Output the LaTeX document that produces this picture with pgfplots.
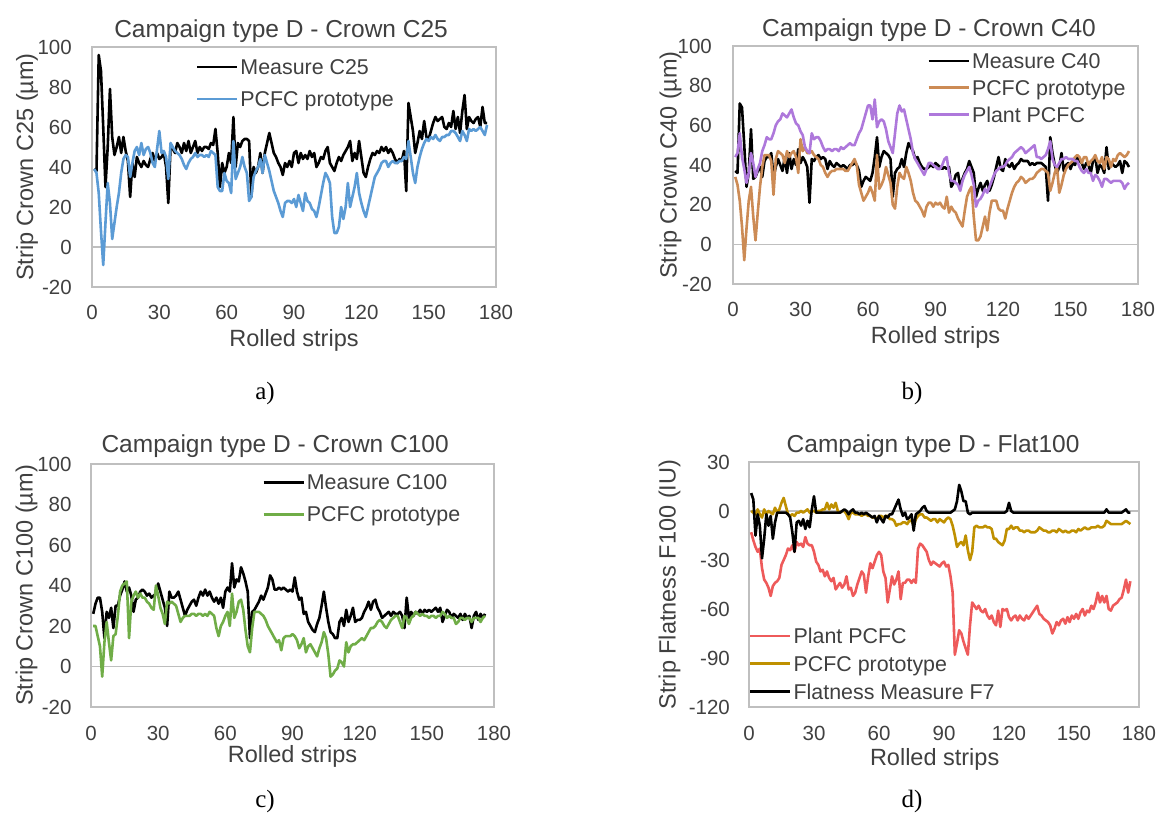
\documentclass[border=0pt]{standalone}
\usepackage{fontspec}
\setmainfont{Liberation Sans}
\newfontfamily\capfont{Liberation Serif}
\usepackage{pgfplots}
\usepackage{pgfplotstable}
\pgfplotsset{compat=1.18}
\definecolor{txt}{HTML}{404040}
\definecolor{boxgray}{HTML}{BFBFBF}
\definecolor{cblue}{HTML}{5B9BD5}
\definecolor{ctan}{HTML}{CC8B55}
\definecolor{cpurple}{HTML}{AE78DB}
\definecolor{cgreen}{HTML}{70AD47}
\definecolor{cred}{HTML}{EE5A5A}
\definecolor{cgold}{HTML}{BF9000}

\pgfplotstableread[row sep=\\]{y\\39\\38\\96\\88\\60\\30\\50\\79\\55\\46\\50\\55\\47\\55\\48\\43\\25\\42\\35\\45\\42\\40\\43\\41\\40\\44\\47\\43\\47\\44\\45\\47\\40\\22\\50\\49\\47\\52\\50\\47\\52\\48\\53\\47\\50\\53\\47\\50\\48\\50\\50\\49\\52\\51\\59\\47\\30\\42\\37\\40\\47\\42\\65\\40\\52\\50\\53\\54\\54\\53\\25\\40\\37\\40\\47\\37\\47\\52\\57\\52\\47\\45\\42\\40\\36\\42\\40\\43\\40\\47\\48\\42\\47\\44\\46\\44\\48\\45\\47\\40\\42\\45\\44\\48\\50\\42\\40\\38\\42\\45\\43\\46\\48\\50\\53\\43\\47\\44\\53\\45\\37\\35\\40\\44\\47\\46\\48\\47\\50\\48\\50\\47\\49\\47\\44\\42\\44\\43\\48\\28\\72\\65\\58\\47\\52\\58\\54\\63\\55\\54\\58\\62\\65\\63\\64\\65\\60\\59\\62\\60\\68\\59\\65\\57\\68\\76\\59\\65\\63\\62\\64\\65\\60\\70\\62\\62\\}\aM
\pgfplotstableread[row sep=\\]{y\\39\\37\\27\\8\\-9\\12\\32\\22\\4\\12\\20\\27\\37\\44\\46\\45\\35\\42\\48\\50\\46\\52\\46\\49\\50\\47\\42\\40\\49\\58\\47\\48\\45\\34\\52\\50\\48\\47\\46\\44\\41\\39\\42\\44\\45\\47\\45\\46\\46\\45\\46\\45\\48\\47\\46\\30\\28\\28\\37\\33\\32\\27\\53\\34\\37\\40\\45\\40\\37\\23\\25\\35\\38\\40\\44\\37\\46\\42\\38\\33\\28\\25\\22\\18\\15\\22\\23\\23\\22\\24\\20\\26\\22\\18\\27\\23\\22\\19\\18\\15\\20\\26\\32\\37\\35\\32\\15\\7\\7\\10\\20\\14\\20\\32\\20\\25\\30\\37\\27\\22\\18\\15\\20\\25\\30\\35\\37\\39\\42\\43\\43\\40\\42\\43\\42\\42\\43\\43\\45\\44\\53\\45\\37\\32\\40\\45\\49\\52\\54\\53\\55\\54\\56\\54\\53\\55\\55\\56\\56\\58\\58\\57\\55\\53\\58\\56\\53\\59\\58\\59\\58\\59\\60\\58\\56\\61\\}\aP
\pgfplotstableread[row sep=\\]{y\\37\\36\\71\\69\\50\\29\\36\\58\\33\\34\\37\\39\\34\\42\\44\\44\\46\\34\\39\\43\\40\\37\\44\\36\\46\\38\\43\\40\\48\\41\\44\\42\\39\\21\\43\\42\\44\\45\\43\\44\\43\\38\\42\\40\\39\\41\\40\\39\\40\\39\\38\\40\\40\\41\\40\\37\\29\\32\\34\\33\\32\\36\\44\\54\\39\\44\\47\\46\\45\\43\\24\\36\\38\\39\\43\\39\\46\\51\\49\\47\\43\\44\\41\\39\\38\\38\\39\\40\\39\\41\\40\\39\\38\\39\\38\\39\\29\\31\\35\\36\\29\\33\\36\\38\\42\\39\\36\\24\\28\\31\\27\\30\\32\\27\\30\\34\\39\\44\\38\\37\\43\\40\\39\\41\\38\\40\\41\\43\\42\\42\\42\\40\\41\\40\\41\\41\\41\\40\\39\\22\\54\\46\\40\\36\\39\\46\\37\\40\\41\\38\\41\\40\\44\\42\\41\\38\\41\\40\\36\\42\\44\\36\\40\\39\\36\\49\\38\\41\\40\\39\\40\\42\\36\\42\\41\\39\\}\bM
\pgfplotstableread[row sep=\\]{y\\34\\30\\22\\9\\-8\\8\\22\\29\\14\\2\\16\\29\\39\\45\\45\\45\\42\\25\\43\\47\\46\\45\\41\\47\\44\\46\\47\\44\\36\\53\\47\\49\\46\\46\\47\\45\\44\\43\\40\\39\\36\\34\\36\\37\\37\\38\\38\\38\\38\\37\\37\\39\\41\\43\\40\\30\\26\\22\\24\\26\\29\\26\\22\\45\\28\\30\\33\\39\\35\\31\\20\\18\\29\\36\\34\\33\\39\\36\\32\\26\\22\\21\\19\\17\\14\\19\\21\\21\\19\\21\\20\\21\\19\\18\\24\\16\\19\\17\\16\\13\\11\\9\\17\\24\\27\\29\\14\\2\\2\\4\\9\\14\\7\\16\\22\\22\\22\\18\\17\\17\\13\\18\\22\\26\\29\\31\\32\\34\\33\\31\\32\\33\\33\\34\\36\\37\\38\\38\\37\\36\\27\\31\\36\\39\\26\\30\\35\\38\\40\\41\\42\\44\\45\\44\\41\\44\\44\\40\\42\\43\\45\\42\\41\\44\\38\\44\\43\\39\\43\\42\\45\\46\\45\\44\\45\\47\\}\bP
\pgfplotstableread[row sep=\\]{y\\44\\46\\56\\44\\38\\31\\36\\46\\41\\34\\38\\41\\47\\50\\54\\53\\53\\56\\60\\62\\63\\66\\65\\64\\66\\68\\64\\61\\60\\57\\55\\49\\47\\46\\56\\53\\54\\54\\52\\49\\47\\48\\48\\47\\48\\48\\47\\49\\48\\49\\50\\51\\50\\50\\53\\56\\58\\62\\66\\70\\70\\63\\73\\59\\62\\63\\62\\58\\52\\49\\46\\56\\66\\70\\67\\68\\63\\58\\53\\46\\43\\41\\39\\37\\35\\38\\41\\41\\40\\39\\38\\38\\40\\43\\44\\36\\32\\32\\31\\30\\27\\32\\35\\37\\39\\35\\30\\19\\22\\23\\25\\28\\26\\29\\32\\35\\37\\38\\39\\39\\40\\42\\43\\44\\46\\47\\48\\49\\48\\46\\47\\48\\49\\50\\44\\44\\43\\44\\45\\48\\52\\43\\40\\39\\41\\43\\43\\44\\43\\43\\43\\42\\42\\39\\37\\36\\38\\36\\36\\32\\35\\34\\32\\29\\33\\33\\32\\31\\32\\32\\32\\32\\31\\28\\30\\31\\}\bL
\pgfplotstableread[row sep=\\]{y\\26\\31\\34\\34\\27\\14\\27\\24\\29\\19\\30\\30\\35\\38\\42\\37\\39\\35\\27\\33\\34\\37\\38\\37\\35\\36\\34\\35\\36\\41\\37\\33\\29\\20\\37\\34\\34\\35\\37\\33\\29\\25\\28\\30\\32\\33\\30\\34\\37\\35\\38\\35\\37\\34\\32\\34\\31\\34\\29\\37\\39\\37\\51\\39\\43\\42\\49\\46\\42\\37\\14\\27\\28\\30\\32\\35\\33\\36\\39\\45\\43\\38\\38\\39\\38\\39\\38\\37\\38\\37\\44\\37\\33\\34\\26\\27\\22\\20\\18\\17\\21\\24\\30\\37\\29\\22\\17\\16\\14\\14\\22\\24\\20\\28\\22\\25\\29\\22\\23\\23\\24\\27\\29\\32\\28\\32\\33\\29\\27\\24\\25\\26\\27\\25\\27\\26\\26\\27\\25\\19\\34\\24\\27\\25\\27\\26\\28\\26\\28\\27\\28\\27\\28\\29\\27\\29\\22\\25\\28\\27\\24\\26\\25\\24\\26\\23\\26\\24\\25\\19\\25\\27\\23\\26\\24\\26\\}\cM
\pgfplotstableread[row sep=\\]{y\\20\\20\\15\\10\\-5\\12\\22\\12\\3\\15\\16\\25\\37\\40\\41\\42\\14\\32\\35\\37\\34\\36\\34\\34\\32\\31\\29\\28\\40\\35\\29\\26\\21\\32\\31\\32\\31\\30\\26\\22\\24\\25\\25\\25\\26\\26\\25\\26\\26\\25\\26\\25\\27\\26\\25\\19\\15\\20\\22\\25\\27\\20\\36\\24\\27\\32\\33\\28\\18\\10\\7\\19\\27\\27\\27\\26\\25\\23\\20\\18\\16\\14\\12\\13\\8\\14\\15\\15\\15\\16\\15\\13\\9\\11\\14\\7\\10\\11\\9\\7\\5\\9\\12\\17\\14\\6\\-5\\-4\\-2\\-1\\3\\2\\0\\12\\7\\10\\11\\11\\12\\13\\14\\13\\15\\17\\19\\19\\20\\22\\23\\22\\20\\19\\21\\23\\24\\25\\25\\22\\19\\25\\24\\21\\24\\25\\27\\26\\25\\26\\25\\25\\24\\25\\25\\24\\25\\25\\27\\26\\24\\25\\24\\24\\21\\22\\24\\24\\23\\24\\24\\22\\24\\24\\24\\22\\24\\25\\}\cP
\pgfplotstableread[row sep=\\]{y\\-13\\-18\\-22\\-25\\-23\\-35\\-42\\-44\\-47\\-52\\-46\\-44\\-43\\-41\\-33\\-30\\-27\\-23\\-24\\-21\\-25\\-19\\-21\\-20\\-22\\-16\\-20\\-21\\-21\\-25\\-31\\-33\\-37\\-36\\-40\\-37\\-41\\-43\\-41\\-48\\-46\\-44\\-47\\-45\\-40\\-48\\-47\\-52\\-50\\-45\\-41\\-37\\-39\\-50\\-40\\-32\\-35\\-31\\-27\\-25\\-27\\-37\\-41\\-56\\-48\\-40\\-45\\-42\\-37\\-54\\-44\\-44\\-42\\-42\\-44\\-42\\-44\\-23\\-20\\-21\\-23\\-25\\-30\\-33\\-31\\-32\\-33\\-34\\-32\\-31\\-34\\-33\\-40\\-50\\-88\\-81\\-73\\-75\\-80\\-84\\-88\\-70\\-56\\-58\\-60\\-58\\-61\\-62\\-60\\-64\\-66\\-64\\-68\\-70\\-61\\-71\\-60\\-61\\-60\\-65\\-67\\-65\\-64\\-67\\-64\\-66\\-67\\-64\\-66\\-64\\-62\\-60\\-58\\-63\\-64\\-66\\-67\\-68\\-70\\-75\\-72\\-68\\-70\\-67\\-66\\-69\\-65\\-68\\-64\\-66\\-63\\-66\\-62\\-60\\-64\\-61\\-62\\-58\\-60\\-56\\-50\\-56\\-52\\-56\\-52\\-60\\-61\\-58\\-57\\-56\\-54\\-53\\-48\\-42\\-50\\-43\\}\dL
\pgfplotstableread[row sep=\\]{y\\0\\-1\\-2\\1\\-2\\-4\\1\\-2\\0\\-1\\-2\\2\\-1\\1\\5\\8\\3\\-2\\-3\\-2\\-3\\-1\\-1\\0\\-1\\0\\1\\-1\\0\\0\\-1\\0\\0\\1\\1\\5\\1\\4\\2\\5\\0\\-1\\0\\0\\-2\\-5\\-1\\-1\\-2\\-2\\-2\\-3\\-2\\-2\\-3\\-3\\-4\\-4\\-5\\-3\\-3\\-4\\-3\\-3\\-5\\-5\\-6\\-9\\-8\\-8\\-7\\-7\\-8\\-6\\-6\\-9\\-5\\-3\\-2\\-2\\-4\\-4\\-5\\-6\\-5\\-5\\-7\\-5\\-6\\-7\\-5\\-4\\-5\\-9\\-15\\-22\\-20\\-19\\-21\\-15\\-24\\-30\\-25\\-10\\-9\\-10\\-10\\-10\\-9\\-10\\-10\\-11\\-17\\-17\\-19\\-20\\-21\\-18\\-11\\-11\\-9\\-11\\-10\\-10\\-12\\-12\\-13\\-12\\-12\\-13\\-13\\-13\\-12\\-10\\-11\\-12\\-12\\-13\\-13\\-12\\-12\\-13\\-11\\-12\\-13\\-12\\-13\\-13\\-12\\-12\\-13\\-11\\-12\\-11\\-10\\-11\\-11\\-10\\-10\\-10\\-9\\-10\\-10\\-9\\-6\\-7\\-8\\-8\\-8\\-8\\-8\\-8\\-7\\-6\\-7\\-8\\}\dP
\pgfplotstableread[row sep=\\]{y\\11\\7\\-15\\-2\\-9\\-29\\-17\\-2\\-9\\-3\\-17\\-7\\-1\\-1\\-1\\-1\\-1\\-2\\-4\\-13\\-25\\-7\\-6\\-9\\-5\\-11\\-6\\-10\\1\\9\\-1\\-1\\-1\\-1\\-1\\-1\\-1\\-1\\-1\\-1\\-1\\-1\\0\\1\\0\\-2\\0\\1\\-1\\-1\\-2\\-1\\-2\\-1\\-2\\-3\\-4\\-3\\-7\\-3\\-5\\-7\\-3\\-4\\-2\\-2\\1\\4\\7\\1\\-3\\-1\\-5\\-4\\-2\\-12\\-2\\-1\\0\\2\\3\\0\\-1\\-1\\-1\\-1\\-1\\-1\\-1\\-1\\-1\\-1\\-1\\0\\1\\6\\16\\12\\6\\6\\-1\\-2\\-1\\-1\\-1\\-1\\-1\\-1\\-1\\-1\\-1\\-1\\-1\\-1\\-1\\-1\\-1\\-1\\0\\5\\0\\-1\\-1\\-1\\-1\\-1\\-1\\-1\\-1\\-1\\-1\\-1\\-1\\-1\\-1\\-1\\-1\\-1\\-1\\-1\\-1\\-1\\-1\\-1\\-1\\-1\\-1\\-1\\-1\\-1\\-1\\-1\\-1\\-1\\-1\\-1\\-1\\-1\\-1\\-1\\-1\\-1\\-1\\-1\\1\\-1\\-1\\-1\\-1\\-1\\-1\\-1\\0\\1\\-1\\-1\\}\dM

\pgfplotsset{
  panel/.style={
    scale only axis,
    axis line style={draw=boxgray, line width=1.2pt},
    xmin=0, xmax=180, xtick={0,30,60,90,120,150,180},
    tick style={draw=none},
    major tick length=0pt,
    ticklabel style={font=\fontsize{20.5}{24}\selectfont, text=txt, inner sep=0pt},
    xticklabel style={anchor=base, yshift=-33pt},
    /pgf/number format/assume math mode=true,
    label style={font=\fontsize{23.5}{28}\selectfont, text=txt, inner sep=0pt},
    every axis title shift=0pt,
    title style={font=\fontsize{24.5}{29}\selectfont, text=txt, anchor=base, inner sep=0pt},
    xlabel style={anchor=base},
    ylabel style={anchor=center},
    legend style={draw=none, fill=none, inner sep=0pt, outer sep=0pt, anchor=north west,
      font=\fontsize{21.4}{25}\selectfont, text=txt, column sep=2pt,
      nodes={inner sep=0pt, text height=19.4pt, text depth=4pt, anchor=west}},
    legend cell align=left,
    legend image code/.code={\draw[#1] (0pt,0pt) -- (40pt,0pt);},
    extra y ticks={0}, extra y tick labels={},
    extra y tick style={grid=major, grid style={draw=boxgray, line width=1.2pt}},
    every axis plot/.append style={line width=2.6pt, line join=round, mark=none},
  }
}

\begin{document}
\begin{tikzpicture}[x=1pt,y=1pt]
\path[use as bounding box, fill=white] (0pt,0pt) rectangle (1169pt,825pt);

% panel a
\begin{axis}[panel, at={(92pt,538pt)}, anchor=south west, width=404pt, height=240pt,
  ymin=-20, ymax=100, ytick={-20,0,...,100}, yticklabel style={anchor=east, xshift=-20pt},
  title={Campaign type D - Crown C25}, title style={at={(axis description cs:0.468,1.0404)}},
  xlabel={Rolled strips}, xlabel style={at={(axis description cs:0.5,-0.246)}},
  ylabel={Strip Crown C25 (µm)}, ylabel style={at={(axis description cs:-0.161,0.5)}},
  legend style={at={(axis description cs:0.257,0.965)}, row sep=8.6pt}]
\addplot[color=black] table[x expr=\coordindex+1, y=y]{\aM};
\addlegendentry{Measure C25}
\addplot[color=cblue] table[x expr=\coordindex+1, y=y]{\aP};
\addlegendentry{PCFC prototype}
\end{axis}

% panel b
\begin{axis}[panel, at={(733pt,541pt)}, anchor=south west, width=405pt, height=238pt,
  ymin=-20, ymax=100, ytick={-20,0,...,100}, yticklabel style={anchor=east, xshift=-21pt},
  title={Campaign type D - Crown C40}, title style={at={(axis description cs:0.484,1.039)}},
  xlabel={Rolled strips}, xlabel style={at={(axis description cs:0.5,-0.252)}},
  ylabel={Strip Crown C40 (µm)}, ylabel style={at={(axis description cs:-0.154,0.5)}},
  legend style={at={(axis description cs:0.480,0.986)}, row sep=3.3pt}]
\addplot[color=black] table[x expr=\coordindex+1, y=y]{\bM};
\addlegendentry{Measure C40}
\addplot[color=ctan] table[x expr=\coordindex+1, y=y]{\bP};
\addlegendentry{PCFC prototype}
\addplot[color=cpurple] table[x expr=\coordindex+1, y=y]{\bL};
\addlegendentry{Plant PCFC}
\end{axis}

% panel c
\begin{axis}[panel, at={(91pt,118pt)}, anchor=south west, width=403pt, height=243pt,
  ymin=-20, ymax=100, ytick={-20,0,...,100}, yticklabel style={anchor=east, xshift=-19.3pt},
  title={Campaign type D - Crown C100}, title style={at={(axis description cs:0.457,1.048)}},
  xlabel={Rolled strips}, xlabel style={at={(axis description cs:0.5,-0.230)}},
  ylabel={Strip Crown C100 (µm)}, ylabel style={at={(axis description cs:-0.160,0.5)}},
  legend style={at={(axis description cs:0.425,0.973)}, row sep=8.6pt}]
\addplot[color=black] table[x expr=\coordindex+1, y=y]{\cM};
\addlegendentry{Measure C100}
\addplot[color=cgreen] table[x expr=\coordindex+1, y=y]{\cP};
\addlegendentry{PCFC prototype}
\end{axis}

% panel d
\begin{axis}[panel, at={(749pt,118pt)}, anchor=south west, width=390pt, height=245pt,
  ymin=-120, ymax=30, ytick={-120,-90,...,30}, yticklabel style={anchor=east, xshift=-19pt},
  title={Campaign type D - Flat100}, title style={at={(axis description cs:0.472,1.0396)}},
  xlabel={Rolled strips}, xlabel style={at={(axis description cs:0.476,-0.237)}},
  ylabel={Strip Flatness F100 (IU)}, ylabel style={at={(axis description cs:-0.204,0.5)}},
  legend style={at={(axis description cs:0.0,0.3376)}, row sep=4.4pt}]
\addplot[color=cred] table[x expr=\coordindex+1, y=y]{\dL};
\addlegendentry{Plant PCFC}
\addplot[color=cgold] table[x expr=\coordindex+1, y=y]{\dP};
\addlegendentry{PCFC prototype}
\addplot[color=black] table[x expr=\coordindex+1, y=y]{\dM};
\addlegendentry{Flatness Measure F7}
\end{axis}

\node[font=\capfont\fontsize{25}{30}\selectfont, anchor=base] at (265pt,425pt) {a)};
\node[font=\capfont\fontsize{25}{30}\selectfont, anchor=base] at (912pt,425pt) {b)};
\node[font=\capfont\fontsize{25}{30}\selectfont, anchor=base] at (265pt,18pt) {c)};
\node[font=\capfont\fontsize{25}{30}\selectfont, anchor=base] at (912pt,18pt) {d)};
\end{tikzpicture}
\end{document}
